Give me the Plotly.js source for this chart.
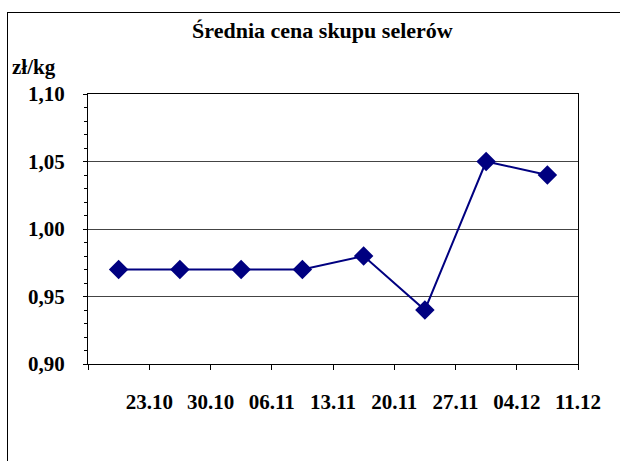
<!DOCTYPE html>
<html>
<head>
<meta charset="utf-8">
<script src="https://cdn.plot.ly/plotly-3.0.1.min.js"></script>
<style>
  body { margin: 0; background: #fff; overflow: hidden; }
  #frame { position: absolute; left: 7px; top: 12px; width: 700px; height: 500px;
           border-left: 1px solid #000; border-top: 1px solid #000; }
  #graph { position: absolute; left: 0; top: 0; width: 620px; height: 461px; }
</style>
</head>
<body>
<div id="frame"></div>
<div id="graph"></div>
<script>
// dates shown under the axis (between the points)
let dates = ['23.10', '30.10', '06.11', '13.11', '20.11', '27.11', '04.12', '11.12']
// average price, zł/kg
let prices = [0.97, 0.97, 0.97, 0.97, 0.98, 0.94, 1.05, 1.04]

let x = prices.map((v, i) => i + 0.5)
let tickvals = [0].concat(dates.map((d, i) => i + 1))
let ticktext = [''].concat(dates)

let font = 'Liberation Serif'

Plotly.newPlot('graph', [{
    x, y: prices,
    type: 'scatter', mode: 'lines+markers',
    line: { color: '#000080', width: 2 },
    marker: { symbol: 'diamond', size: 15, color: '#000080' },
    hoverinfo: 'skip'
}], {
    width: 620, height: 461,
    margin: { l: 88, r: 42, t: 94, b: 97 },
    paper_bgcolor: 'rgba(0,0,0,0)',
    plot_bgcolor: '#fff',
    separators: ', ',
    showlegend: false,
    title: {
        text: '<b>Średnia cena skupu selerów</b>',
        font: { family: font, size: 22, color: '#000' },
        x: 0.52, xanchor: 'center', y: 0.935, yanchor: 'middle'
    },
    xaxis: {
        range: [0, 8], tickvals, ticktext,
        showgrid: false, zeroline: false,
        showline: true, linecolor: '#000', linewidth: 1, mirror: true,
        ticks: 'outside', ticklen: 5, tickcolor: '#000',
        ticklabelstandoff: 14,
        tickfont: { family: font, size: 21, weight: 'bold', color: '#000' }
    },
    yaxis: {
        range: [0.9, 1.1], dtick: 0.05, tick0: 0.9, tickformat: '.2f',
        showgrid: true, gridcolor: '#444', gridwidth: 1, zeroline: false,
        showline: true, linecolor: '#000', linewidth: 1, mirror: true,
        ticks: 'outside', ticklen: 4, tickcolor: '#000',
        ticklabelstandoff: 14,
        tickfont: { family: font, size: 21, weight: 'bold', color: '#000' },
        minor: { dtick: 0.01, ticks: 'outside', ticklen: 3, tickcolor: '#000', showgrid: false }
    },
    annotations: [{
        text: '<b>zł/kg</b>', xref: 'paper', yref: 'paper',
        x: -0.16, y: 1.1, xanchor: 'left', yanchor: 'middle',
        showarrow: false, font: { family: font, size: 21, color: '#000' }
    }]
}, { staticPlot: true, displayModeBar: false })
</script>
</body>
</html>
